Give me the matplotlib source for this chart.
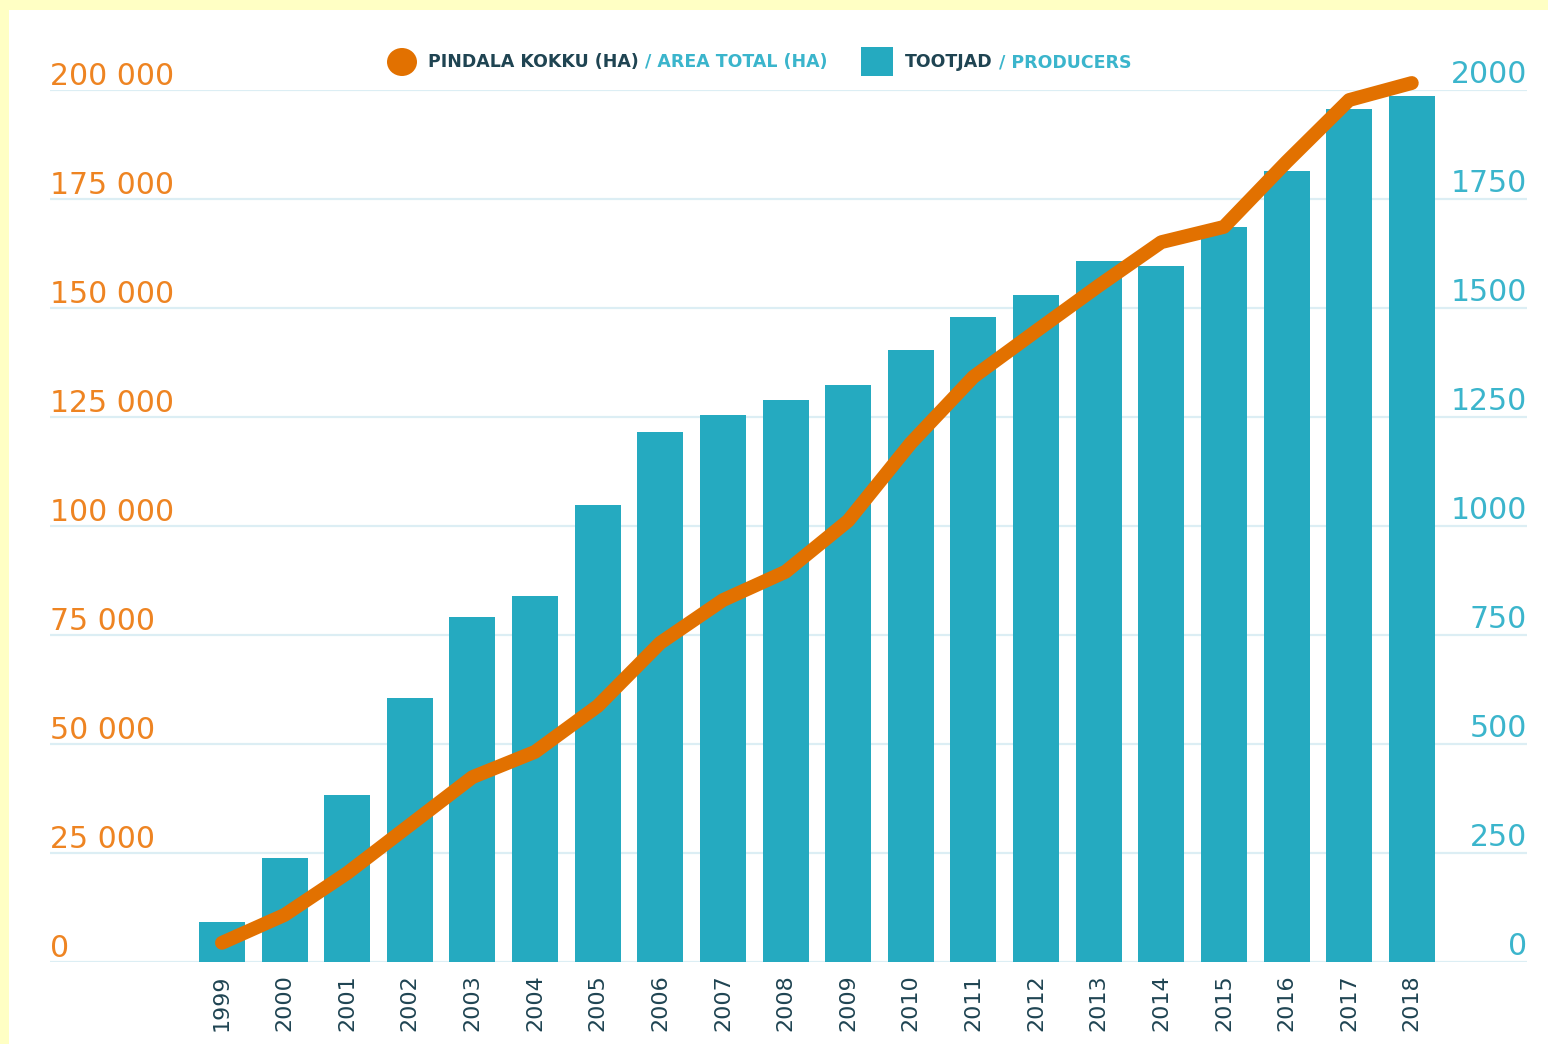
from matplotlib import pyplot as plt
from matplotlib.patches import Rectangle, Ellipse
from matplotlib import transforms
import numpy as np

# Data
years = [str(y) for y in range(1999, 2019)]
producers = [92, 239, 383, 606, 791, 839, 1048, 1216, 1255, 1289,
             1323, 1404, 1479, 1530, 1608, 1596, 1686, 1814, 1956, 1986]
area_ha = [4400, 10800, 20400, 31400, 42400, 48200, 58700, 73200, 83000, 89500,
           101200, 119000, 134200, 144700, 155100, 165100, 168600, 183500, 197700, 201600]
area_ticks = [0, 25000, 50000, 75000, 100000, 125000, 150000, 175000, 200000]
prod_ticks = [0, 250, 500, 750, 1000, 1250, 1500, 1750, 2000]

W, H = 1548, 1044
ORANGE = '#E27100'
ORANGE_TXT = '#EE8422'
TEAL = '#25AAC0'
TEAL_TXT = '#3BB5CC'
GRID = '#DCEEF4'
DARK = '#1F4452'

fig = plt.figure(figsize=(W / 100, H / 100), dpi=100)
fig.patch.set_facecolor('#FFFFC4')
fig.add_artist(Rectangle((9 / W, 0), 1 - 9 / W, 1 - 10 / H, transform=fig.transFigure,
                         facecolor='white', edgecolor='none', zorder=-5))

# bars (producers) on the base axes, line (area) on the twin so it sits on top
ax = fig.add_axes([50 / W, 82 / H, (1527 - 50) / W, 872 / H])
ax.set_facecolor('none')
xs = np.arange(len(years))
ax.bar(xs, producers, width=0.735, color=TEAL, zorder=2)
ax.set_xlim(-2.746, 20.84)
ax.set_ylim(0, 2000)
ax.set_yticks(prod_ticks)
ax.yaxis.grid(True, color=GRID, linewidth=1.6)
ax.set_axisbelow(True)
ax.tick_params(axis='y', length=0, labelleft=False, labelright=False)
ax.set_xticks(xs, years, rotation=90)
ax.tick_params(axis='x', length=0, pad=9, labelsize=16, labelcolor=DARK)
for s in ax.spines.values():
    s.set_visible(False)

ax2 = ax.twinx()
ax2.set_ylim(0, 200000)
ax2.plot(xs, area_ha, color=ORANGE, linewidth=10, solid_capstyle='round',
         solid_joinstyle='round', clip_on=False, zorder=3)
ax2.axis('off')

# tick labels sitting just above their gridlines
left_tr = transforms.offset_copy(ax2.get_yaxis_transform(), fig=fig, y=3.6, units='points')
for v in area_ticks:
    ax2.text(0, v, f"{v:,}".replace(',', ' '), transform=left_tr, ha='left', va='baseline',
             fontsize=21.5, color=ORANGE_TXT)
right_tr = transforms.offset_copy(ax.get_yaxis_transform(), fig=fig, y=5.2, units='points')
for v in prod_ticks:
    ax.text(1, v, str(v), transform=right_tr, ha='right', va='baseline',
            fontsize=21.5, color=TEAL_TXT)

# legend drawn by hand (two-colour labels)
fig.add_artist(Ellipse((402 / W, 1 - 62 / H), 30 / W, 28 / H, transform=fig.transFigure,
                       facecolor=ORANGE, edgecolor='none'))
fig.add_artist(Rectangle((861 / W, 1 - 76 / H), 32 / W, 29 / H, transform=fig.transFigure,
                         facecolor=TEAL, edgecolor='none'))

fig.canvas.draw()
renderer = fig.canvas.get_renderer()


def put(x_px, s, color):
    t = fig.text(x_px / W, 1 - 62 / H, s, color=color, fontsize=12.5, fontweight='bold',
                 ha='left', va='center')
    return t.get_window_extent(renderer).x1


x = put(428, 'PINDALA KOKKU (HA)', DARK)
put(x + 6, '/ AREA TOTAL (HA)', TEAL_TXT)
x = put(905, 'TOOTJAD', DARK)
put(x + 6, '/ PRODUCERS', TEAL_TXT)

plt.savefig('out.png', dpi=100, facecolor=fig.get_facecolor())
